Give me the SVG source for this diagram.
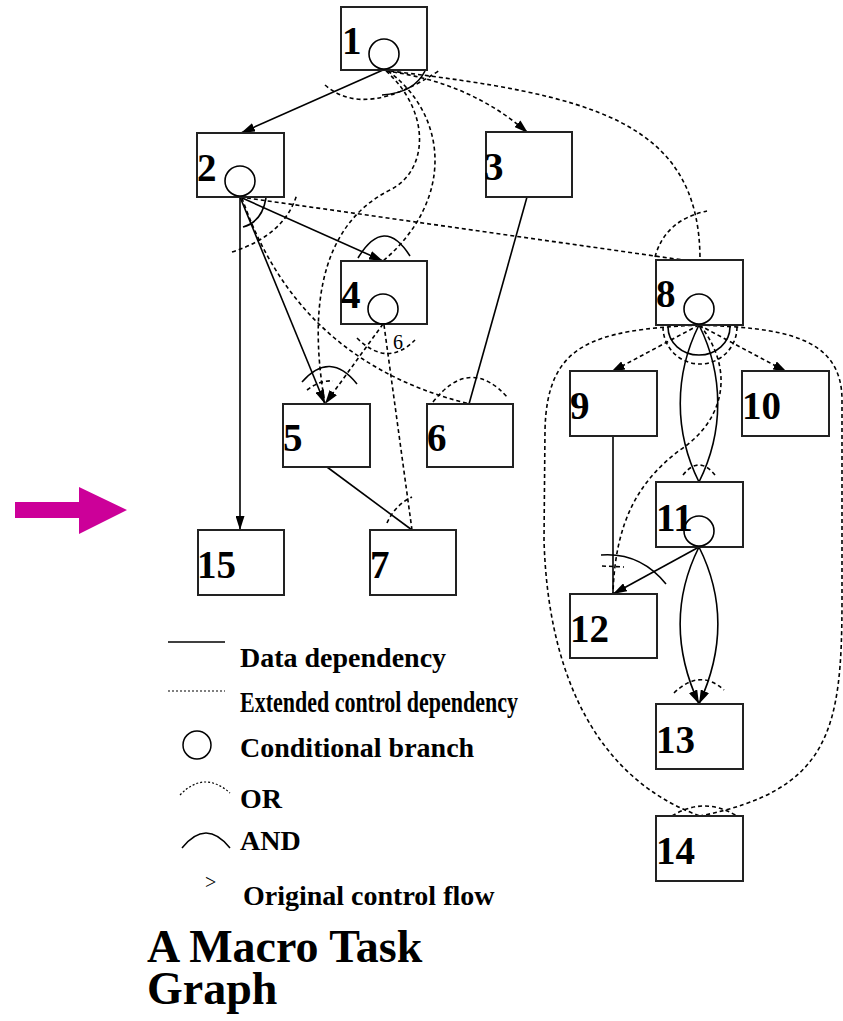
<svg xmlns="http://www.w3.org/2000/svg" width="843" height="1021" viewBox="0 0 843 1021">
<style>
.box{fill:#fff;stroke:#222;stroke-width:2}
.br{fill:none;stroke:#000;stroke-width:1.6}
.lbl{font-family:"Liberation Serif",serif;font-weight:bold;font-size:39px;fill:#000}
.s{fill:none;stroke:#000;stroke-width:1.6}
.d{fill:none;stroke:#000;stroke-width:1.6;stroke-dasharray:4,3}
.lg{font-family:"Liberation Serif",serif;font-weight:bold;font-size:28px;fill:#000}
.tt{font-family:"Liberation Serif",serif;font-weight:bold;font-size:46px;fill:#000}
</style>
<defs>
<marker id="ah" viewBox="0 0 14 9" refX="14" refY="4.5" markerWidth="14" markerHeight="9" markerUnits="userSpaceOnUse" orient="auto"><path d="M0,0 L14,4.5 L0,9 Z" fill="#000"/></marker>
</defs>
<rect width="843" height="1021" fill="#fff"/>
<g id="connectors">
<path class="s" d="M383,70 L241,133" marker-end="url(#ah)"/>
<path class="d" d="M386,71 Q470,82 528,133" marker-end="url(#ah)"/>
<path class="d" d="M390,71 C590,95 700,120 700,260"/>
<path class="d" d="M388,71 C448,115 455,200 383,261"/>
<path class="d" d="M386,71 C430,110 430,170 390,190 C330,220 305,290 325,404"/>
<path class="s" d="M425,71 Q414,93 382,95"/>
<path class="d" d="M325,85 Q365,120 440,70"/>
<path class="s" d="M240,197 L240,530" marker-end="url(#ah)"/>
<path class="s" d="M240,197 L383,261" marker-end="url(#ah)"/>
<path class="s" d="M240,197 L325,404" marker-end="url(#ah)"/>
<path class="d" d="M240,197 L690,261"/>
<path class="d" d="M242,198 C270,280 330,370 470,404"/>
<path class="s" d="M266,198 Q262,222 243,227"/>
<path class="d" d="M232,252 Q285,235 297,194"/>
<path class="s" d="M527,197 L469,404"/>
<path class="s" d="M358,258 Q384,215 410,256"/>
<path class="d" d="M383,324 L325,404" marker-end="url(#ah)"/>
<path class="d" d="M384,325 L412,530"/>
<path class="d" d="M357,338 Q387,368 415,340"/>
<path class="s" d="M302,382 Q330,350 357,384"/>
<path class="d" d="M307,390 Q320,380 333,381"/>
<path class="s" d="M327,467 L412,530"/>
<path class="d" d="M387,523 Q395,505 412,497"/>
<path class="d" d="M433,402 Q470,355 508,398"/>
<path class="d" d="M655,257 Q665,220 707,211"/>
<path class="d" d="M699,325 L611,372" marker-end="url(#ah)"/>
<path class="d" d="M699,325 L787,372" marker-end="url(#ah)"/>
<path class="s" d="M699,325 C674,375 674,432 699,482"/>
<path class="s" d="M699,325 C724,375 724,432 699,482"/>
<path class="d" d="M700,325 C735,370 725,420 680,450 C640,480 615,520 613,594"/>
<path class="s" d="M668,327 A31,28 0 0 0 730,327"/>
<path class="d" d="M663,327 A37,37 0 0 0 737,327"/>
<path class="d" d="M699,325 C590,330 547,345 545,430 L544,540 C548,680 600,780 700,816"/>
<path class="d" d="M699,325 C780,328 842,335 842,400 L842,600 C842,730 830,790 700,816"/>
<path class="d" d="M672,816 Q704,796 737,816"/>
<path class="s" d="M613,436 L613,594"/>
<path class="s" d="M699,547 L613,594" marker-end="url(#ah)"/>
<path class="s" d="M601,555 Q640,552 666,584"/>
<path class="d" d="M602,566 L624,567"/>
<path class="s" d="M699,547 C674,597 674,650 699,704" marker-end="url(#ah)"/>
<path class="s" d="M699,547 C724,597 724,650 699,704" marker-end="url(#ah)"/>
<path class="d" d="M674,693 Q700,668 724,690"/>
<path class="d" d="M683,475 Q699,455 715,475"/>
<text x="393" y="349" font-family="Liberation Serif,serif" font-size="20" fill="#000">6</text>
</g>
<g id="n1"><rect class="box" x="341" y="7" width="86" height="63"/><circle class="br" cx="384" cy="54" r="15"/><text class="lbl" x="342" y="54">1</text></g>
<g id="n2"><rect class="box" x="197" y="133" width="87" height="64"/><circle class="br" cx="240" cy="181" r="15"/><text class="lbl" x="197" y="181">2</text></g>
<g id="n3"><rect class="box" x="486" y="132" width="86" height="65"/><text class="lbl" x="484" y="180">3</text></g>
<g id="n4"><rect class="box" x="341" y="261" width="86" height="63"/><circle class="br" cx="383" cy="309" r="15"/><text class="lbl" x="341" y="308">4</text></g>
<g id="n5"><rect class="box" x="283" y="404" width="87" height="63"/><text class="lbl" x="283" y="451">5</text></g>
<g id="n6"><rect class="box" x="427" y="404" width="86" height="63"/><text class="lbl" x="427" y="451">6</text></g>
<g id="n7"><rect class="box" x="370" y="530" width="86" height="65"/><text class="lbl" x="370" y="578">7</text></g>
<g id="n8"><rect class="box" x="656" y="260" width="87" height="65"/><circle class="br" cx="699" cy="309" r="15"/><text class="lbl" x="656" y="307">8</text></g>
<g id="n9"><rect class="box" x="570" y="371" width="87" height="65"/><text class="lbl" x="570" y="419">9</text></g>
<g id="n10"><rect class="box" x="742" y="371" width="87" height="65"/><text class="lbl" x="742" y="419">10</text></g>
<g id="n11"><rect class="box" x="656" y="482" width="87" height="65"/><text class="lbl" x="656" y="531">11</text><circle class="br" cx="699" cy="531" r="15"/></g>
<g id="n12"><rect class="box" x="570" y="594" width="87" height="64"/><text class="lbl" x="570" y="642">12</text></g>
<g id="n13"><rect class="box" x="656" y="704" width="87" height="65"/><text class="lbl" x="656" y="753">13</text></g>
<g id="n14"><rect class="box" x="656" y="816" width="87" height="65"/><text class="lbl" x="656" y="864">14</text></g>
<g id="n15"><rect class="box" x="198" y="530" width="86" height="65"/><text class="lbl" x="197" y="578">15</text></g>
<g id="arrow"><polygon points="15,502 79,502 79,487 127,510 79,534 79,518 15,518" fill="#cc0099"/></g>
<g id="legend">
<path d="M168,642 L225,642" stroke="#000" stroke-width="1.5"/>
<path d="M168,691 L225,691" stroke="#000" stroke-width="1.2" stroke-dasharray="2,2"/>
<circle cx="197" cy="745" r="14" fill="none" stroke="#000" stroke-width="1.5"/>
<path d="M180,795 Q204,770 230,793" fill="none" stroke="#000" stroke-width="1.2" stroke-dasharray="2,2"/>
<path d="M182,848 Q206,818 230,848" fill="none" stroke="#000" stroke-width="1.5"/>
<text x="205" y="889" font-family="Liberation Serif,serif" font-size="20" fill="#000">&gt;</text>
<text class="lg" x="240" y="667">Data dependency</text>
<text class="lg" x="240" y="712" style="font-size:30px" textLength="278" lengthAdjust="spacingAndGlyphs">Extended control dependency</text>
<text class="lg" x="240" y="757">Conditional branch</text>
<text class="lg" x="240" y="808">OR</text>
<text class="lg" x="240" y="850">AND</text>
<text class="lg" x="243" y="905">Original control flow</text>
</g>
<g id="title">
<text class="tt"><tspan x="147" y="962">A Macro Task</tspan><tspan x="147" y="1004">Graph</tspan></text>
</g>
</svg>
